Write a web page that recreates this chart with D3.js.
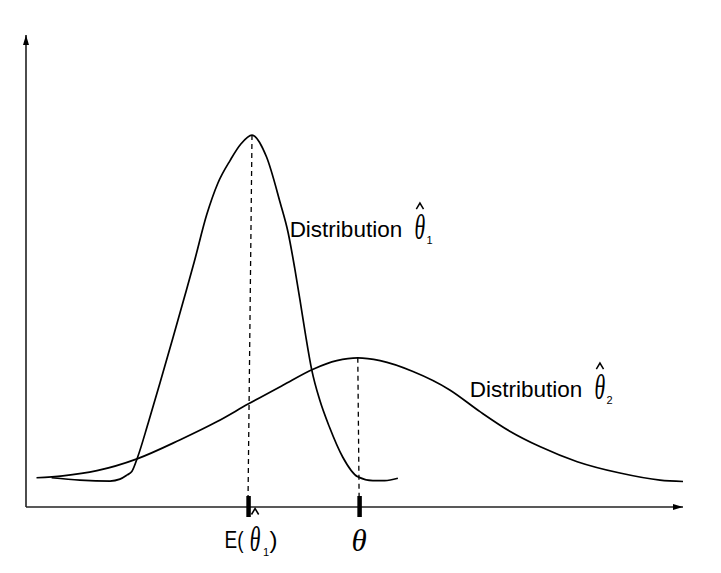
<!DOCTYPE html>
<html><head><meta charset="utf-8">
<script src="https://cdn.jsdelivr.net/npm/d3@7"></script>
<style>body{margin:0;background:#fff}svg{display:block}</style>
</head><body>
<svg id="chart" width="721" height="573"></svg>
<script>
// ---- data (arbitrary units: x 0..10, density 0..10) ----
const curve1X = [0.39,0.82,1.28,1.43,1.54,1.61,1.70,1.86,2.04,2.24,2.40,2.56,2.75,2.92,3.11,3.27,3.44,3.66,3.87,3.99,4.09,4.17,4.25,4.35,4.47,4.62,4.82,5.05,5.28,5.46,5.66];
const curve1Y = [0.62,0.57,0.55,0.59,0.68,0.75,1.06,1.78,2.63,3.60,4.39,5.19,6.19,6.86,7.35,7.69,7.88,7.42,6.44,5.81,5.06,4.39,3.69,2.90,2.27,1.69,1.06,0.64,0.56,0.56,0.61];
const curve2X = [0.16,0.56,1.08,1.69,2.34,2.91,3.38,3.91,4.37,4.73,5.05,5.39,5.89,6.45,6.91,7.37,7.82,8.39,9.04,9.65,10.0];
const curve2Y = [0.62,0.66,0.77,1.02,1.42,1.81,2.18,2.58,2.92,3.10,3.16,3.10,2.87,2.48,2.02,1.60,1.28,0.96,0.72,0.57,0.54];
const tickValues = [3.38, 5.07];
const tickNames = ["E(", "θ"];
const seriesNames = ["Distribution", "Distribution"];
const seriesSubs = ["1", "2"];
const labelX = [4.04, 6.78];
const labelY = [5.73, 2.34];

// ---- scales ----
const x = d3.scaleLinear().domain([0, 10]).range([26, 683]);
const y = d3.scaleLinear().domain([0, 10]).range([507, 35]);
const svg = d3.select("#chart");
const SANS = "'Liberation Sans', Arial, sans-serif";
const SERIF = "'Liberation Serif', 'Times New Roman', serif";

// arrow marker
svg.append("defs").append("marker").attr("id", "arrow")
  .attr("viewBox", "0 0 10 6").attr("refX", 10).attr("refY", 3)
  .attr("markerUnits", "userSpaceOnUse")
  .attr("markerWidth", 10).attr("markerHeight", 6).attr("orient", "auto")
  .append("path").attr("d", "M0,0L10,3L0,6Z").attr("fill", "#000");

// axis lines
svg.append("line")
  .attr("x1", x(0)).attr("y1", y(0)).attr("x2", x(0)).attr("y2", y(10))
  .attr("stroke", "#000").attr("stroke-width", 1.4).attr("marker-end", "url(#arrow)");
svg.append("line")
  .attr("x1", x(0)).attr("y1", y(0)).attr("x2", x(10)).attr("y2", y(0))
  .attr("stroke", "#222").attr("stroke-width", 1.7).attr("marker-end", "url(#arrow)");

// ticks via d3 axis
const xAxis = d3.axisBottom(x).tickValues(tickValues).tickFormat("").tickSizeOuter(0);
const gx = svg.append("g").attr("transform", `translate(0,${y(0)})`).call(xAxis);
gx.select(".domain").remove();
gx.selectAll(".tick line").attr("y1", -11).attr("y2", 10)
  .attr("stroke", "#000").attr("stroke-width", 4.5);

// curves
const line = d3.line().x(d => x(d[0])).y(d => y(d[1])).curve(d3.curveMonotoneX);
const c1 = curve1X.map((v, i) => [v, curve1Y[i]]);
const c2 = curve2X.map((v, i) => [v, curve2Y[i]]);
[c1, c2].forEach(c => {
  svg.append("path").attr("d", line(c)).attr("fill", "none")
    .attr("stroke", "#000").attr("stroke-width", 1.7).attr("stroke-linejoin", "round");
});

// dashed lines from peaks to ticks
[c1, c2].forEach((c, i) => {
  const p = c[d3.maxIndex(c, d => d[1])];
  svg.append("line")
    .attr("x1", x(p[0])).attr("y1", y(p[1]))
    .attr("x2", x(tickValues[i])).attr("y2", y(0) - 11)
    .attr("stroke", "#000").attr("stroke-width", 1.3).attr("stroke-dasharray", "5,4");
});

// hatted theta with subscript; cx = theta centre, base = theta baseline
function hatTheta(cx, base, sub, subX, subY, hatTop) {
  svg.append("text").attr("transform", `translate(${cx},${base}) scale(0.62,1)`)
    .attr("text-anchor", "middle").attr("font-family", SERIF).attr("font-style", "italic")
    .attr("font-size", 35).attr("fill", "#000").text("θ");
  // circumflex accent
  svg.append("path")
    .attr("d", `M${cx - 3.6},${hatTop + 6}L${cx},${hatTop}L${cx + 3.6},${hatTop + 6}`)
    .attr("fill", "none").attr("stroke", "#000").attr("stroke-width", 1.5)
    .attr("stroke-linejoin", "miter");
  svg.append("text").attr("x", subX).attr("y", subY)
    .attr("font-family", SANS).attr("font-size", 11).attr("fill", "#000").text(sub);
}

// series labels
seriesNames.forEach((name, i) => {
  const ax = x(labelX[i]), ay = y(labelY[i]);
  svg.append("text").attr("x", ax - 1.8).attr("y", ay)
    .attr("font-family", SANS).attr("font-size", 22.5).attr("fill", "#000").text(name);
  hatTheta(ax + 128.5, ay + 2.5, seriesSubs[i], ax + 135, ay + 7.5, ay - 33.5);
});

// tick label 1: E(θ̂₁)
const t0 = x(tickValues[0]), tb = y(0) + 41.3;
svg.append("text").attr("x", t0 - 23.5).attr("y", tb)
  .attr("font-family", SANS).attr("font-size", 24)
  .attr("textLength", 19).attr("lengthAdjust", "spacingAndGlyphs").text(tickNames[0]);
hatTheta(t0 + 7, tb + 3, "1", t0 + 15, tb + 8, y(0) + 1.5);
svg.append("text").attr("x", t0 + 21.5).attr("y", tb)
  .attr("font-family", SANS).attr("font-size", 24).text(")");

// tick label 2: θ
svg.append("text").attr("x", x(tickValues[1])).attr("y", y(0) + 44)
  .attr("text-anchor", "middle").attr("font-family", SERIF).attr("font-style", "italic")
  .attr("font-size", 31).text(tickNames[1]);
</script>
</body></html>
